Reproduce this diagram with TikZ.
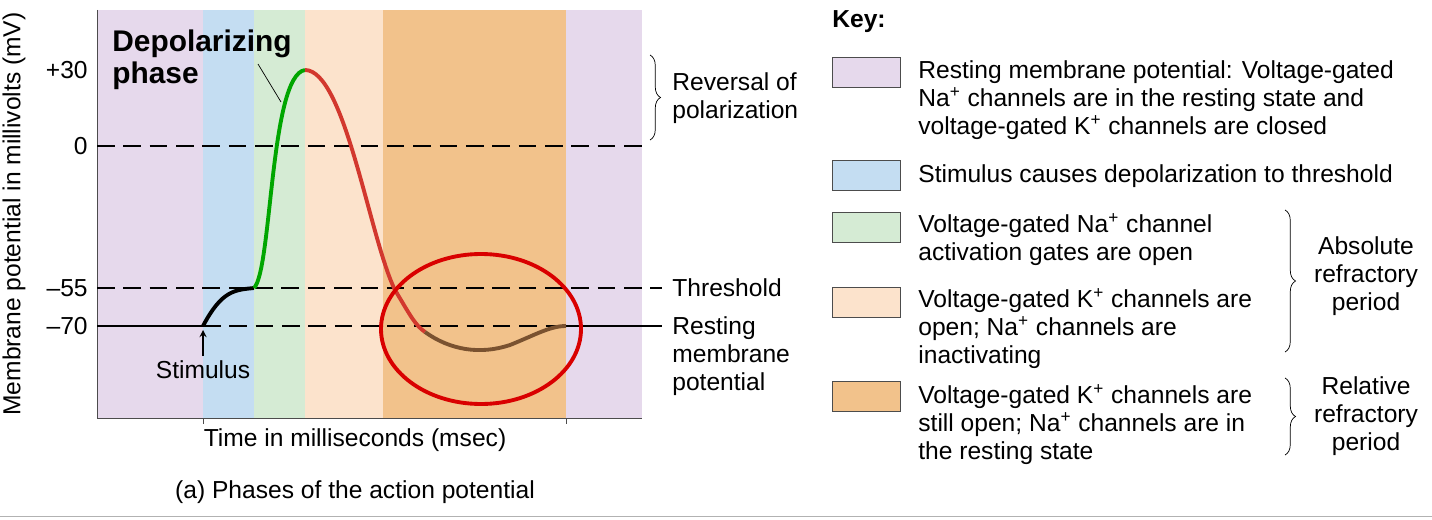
\documentclass[tikz,border=0pt]{standalone}
\usepackage{fontspec}
\setmainfont{Liberation Sans}
\usetikzlibrary{decorations.pathreplacing}
\definecolor{restcol}{HTML}{E6D9EC}
\definecolor{stimcol}{HTML}{C4DDF2}
\definecolor{nacol}{HTML}{D5EBD4}
\definecolor{kcol}{HTML}{FCE3CC}
\definecolor{relcol}{HTML}{F2C28B}
\definecolor{peakcol}{HTML}{D2382E}
\definecolor{undercol}{HTML}{7A5230}
\newcommand{\ionp}{\textsuperscript{+}}
\tikzset{
  band/.style={draw=none},
  level/.style={line width=1.6pt,dash pattern=on 10pt off 5pt},
  lbl/.style={font=\fontsize{14}{16}\selectfont,align=left,anchor=west,inner sep=0pt},
  keybox/.style={draw=black!70,minimum width=1.36cm,minimum height=0.6cm,inner sep=0pt},
  brc/.style={decorate,decoration={brace,amplitude=6pt}},
}
\begin{document}
\begin{tikzpicture}[x=0.02cm,y=-0.02cm]
\useasboundingbox (0,0) rectangle (1432,520);
% bands
	\fill[restcol] (97,10) rectangle (203,418);
	\fill[stimcol] (203,10) rectangle (254,418);
	\fill[nacol] (254,10) rectangle (305,418);
	\fill[kcol] (305,10) rectangle (383,418);
	\fill[relcol] (383,10) rectangle (566,418);
	\fill[restcol] (566,10) rectangle (642,418);
	\draw[black!70] (97,10) -- (97,418) -- (642,418);
	\draw[black!70] (203,418) -- (203,424);
	\draw[black!70] (566,418) -- (566,424);

	% levels
	\node[lbl,anchor=east] (p30) at (88,70) {+30};
	\node[lbl,anchor=east] (z0) at (88,146) {0};
	\node[lbl,anchor=east] (m55) at (88,288) {–55};
	\node[lbl,anchor=east] (m70) at (88,326) {–70};
	\draw[level] (97,146) -- (642,146);
	\draw[level] (97,288) -- (662,288);
	\draw[level] (203,326) -- (566,326);
	\draw[line width=1.6pt] (97,326) -- (203,326);
	\draw[line width=1.6pt] (566,326) -- (662,326);

	% curve
	\draw[line width=2.2pt] (203,326) .. controls (222,290) and (235,290) .. (254,288);
	\draw[line width=2.2pt,green!65!black] (254,288) .. controls (272,270) and (270,75) .. (305,70);
	\draw[line width=2.2pt,peakcol] (305,70) .. controls (345,70) and (370,240) .. (395,290) .. controls (410,315) and (415,325) .. (425,332);
	\draw[line width=2.2pt,undercol] (425,332) .. controls (450,350) and (480,355) .. (510,345) .. controls (535,335) and (550,326) .. (566,326);
	\draw[red!85!black,line width=2.2pt] (481,329) ellipse (100 and 75);

	% labels on plot
	\node[lbl,font=\bfseries\fontsize{17}{18}\selectfont] (depol) at (112,60) {Depolarizing\\phase};
	\draw (258,64) -- (281,102);
	\node[lbl,anchor=north] (stim) at (203,360) {Stimulus};
	\draw[->,>=stealth,thick] (stim.north) ++(0,-4) -- (203,330);
	\draw[brc] (650,55) -- (650,140);
	\node[lbl] (rev) at (672,98) {Reversal of\\polarization};
	\node[lbl] (thr) at (672,288) {Threshold};
	\node[lbl,anchor=north west] (rest) at (672,316) {Resting\\membrane\\potential};
	\node[lbl,anchor=center,rotate=90] (yax) at (14,214) {Membrane potential in millivolts (mV)};
	\node[lbl,anchor=center] (xax) at (355,440) {Time in milliseconds (msec)};
	\node[lbl,anchor=center] (cap) at (355,492) {(a) Phases of the action potential};
	\draw[black!30] (0,516) -- (1432,516);

	% key
	\node[lbl,font=\bfseries\fontsize{14}{16}\selectfont] (key) at (832,22) {Key:};
	\node[keybox,fill=restcol,anchor=north west] (k1) at (832,57) {};
	\node[keybox,fill=stimcol,anchor=north west] (k2) at (832,160) {};
	\node[keybox,fill=nacol,anchor=north west] (k3) at (832,212) {};
	\node[keybox,fill=kcol,anchor=north west] (k4) at (832,287) {};
	\node[keybox,fill=relcol,anchor=north west] (k5) at (832,381) {};
	\node[lbl,anchor=north west] (t1) at (918,60) {Resting membrane potential: Voltage-gated\\Na\ionp{} channels are in the resting state and\\voltage-gated K\ionp{} channels are closed};
	\node[lbl] (t2) at (918,176) {Stimulus causes depolarization to threshold};
	\node[lbl,anchor=north west] (t3) at (918,213) {Voltage-gated Na\ionp{} channel\\activation gates are open};
	\node[lbl,anchor=north west] (t4) at (918,288) {Voltage-gated K\ionp{} channels are\\open; Na\ionp{} channels are\\inactivating};
	\node[lbl,anchor=north west] (t5) at (918,384) {Voltage-gated K\ionp{} channels are\\still open; Na\ionp{} channels are in\\the resting state};
	\draw[brc] (1285,210) -- (1285,352);
	\node[lbl,align=center,anchor=center] (abs) at (1366,276) {Absolute\\refractory\\period};
	\draw[brc] (1285,378) -- (1285,455);
	\node[lbl,align=center,anchor=center] (rel) at (1366,416) {Relative\\refractory\\period};
\end{tikzpicture}
\end{document}
